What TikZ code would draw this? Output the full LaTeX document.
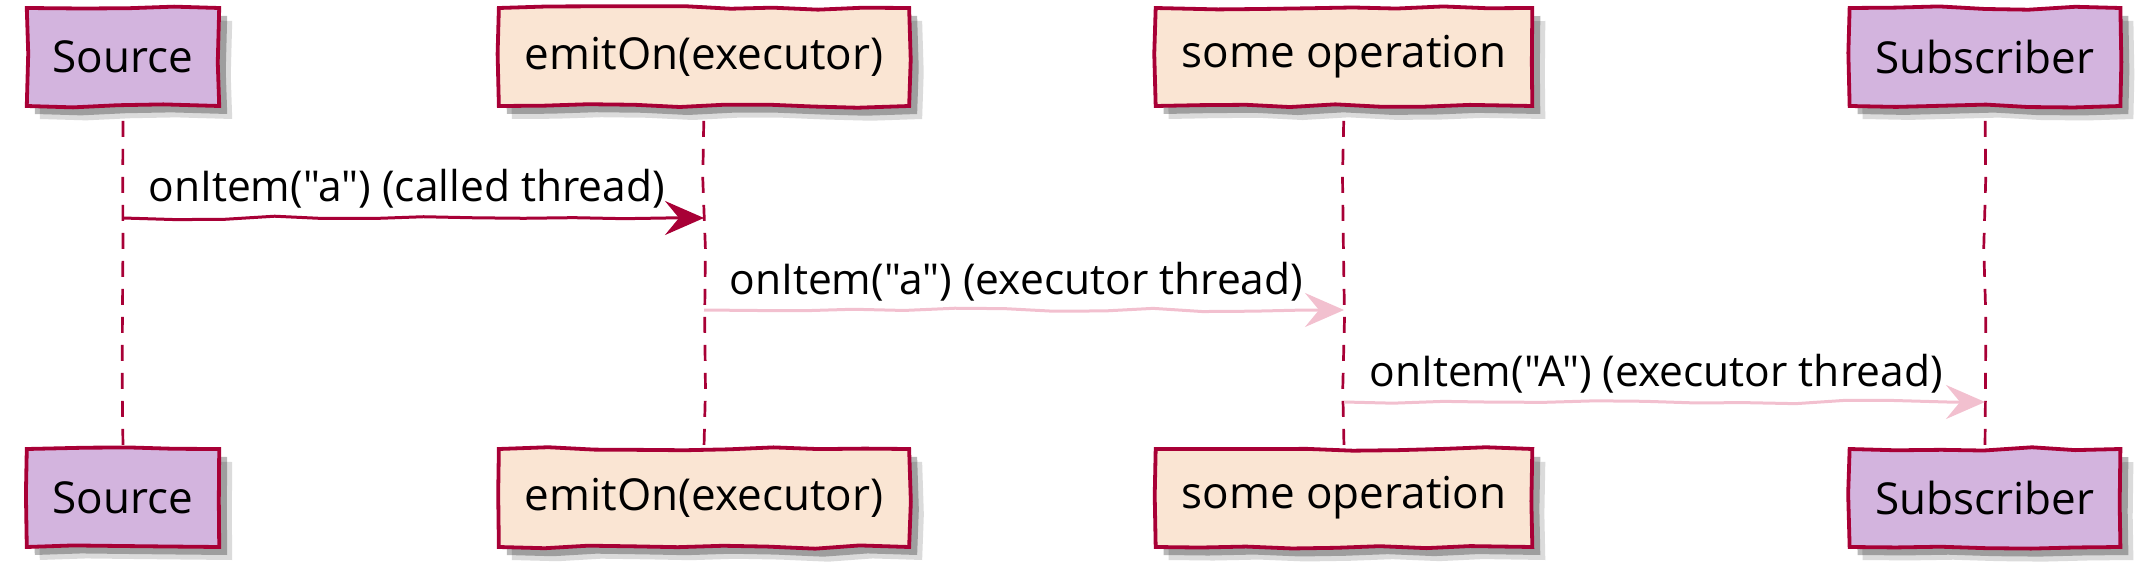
\documentclass[tikz,border=0pt]{standalone}
\usepackage{fontspec}
\setmainfont{Open Sans}[Ligatures=TeXOff]
\usetikzlibrary{arrows.meta,decorations.pathmorphing,shadows}

\definecolor{plumfill}{RGB}{211,180,222}
\definecolor{sandfill}{RGB}{250,229,211}
\definecolor{redline}{RGB}{168,0,54}
\definecolor{pinkline}{RGB}{242,192,207}

\tikzset{
	box/.style={draw=redline, line width=3.8pt, minimum height=98pt, inner xsep=26pt,
		font=\fontsize{44}{50}\selectfont,
		decorate, decoration={random steps, segment length=45pt, amplitude=1.8pt},
		drop shadow={shadow xshift=8pt, shadow yshift=-8pt, fill=black, opacity=.28},
		drop shadow={shadow xshift=13pt, shadow yshift=-13pt, fill=black, opacity=.14}},
	plum/.style={box, fill=plumfill},
	sand/.style={box, fill=sandfill},
	life/.style={draw=redline, line width=2.7pt, dash pattern=on 16pt off 12pt,
		decorate, decoration={random steps, segment length=70pt, amplitude=1.5pt},
		shorten <=13pt, shorten >=2pt},
	msg/.style={line width=3pt, decorate,
		decoration={random steps, segment length=50pt, amplitude=1.8pt, post length=38pt},
		-{Stealth[length=39pt, width=34pt, inset=14pt]}},
	lbl/.style={text=black, font=\fontsize{42.5}{48}\selectfont, anchor=base west,
		inner sep=0pt, xshift=24pt, yshift=16pt}
}

\begin{document}
\begin{tikzpicture}[x=1pt, y=-1pt]
			\useasboundingbox (0,0) rectangle (2150,580);
			\pgfmathsetseed{4211}

			\node[plum] (P1) at (123,57) {Source};
			\node[sand] (P2) at (704,57) {emitOn(executor)};
			\node[sand] (P3) at (1344,57) {some operation};
			\node[plum] (P4) at (1985,57) {Subscriber};

			\node[plum] (P5) at (123,498) {Source};
			\node[sand] (P6) at (704,498) {emitOn(executor)};
			\node[sand] (P7) at (1344,498) {some operation};
			\node[plum] (P8) at (1985,498) {Subscriber};

			\draw[life] (P1.south) -- (P5.north);
			\draw[life] (P2.south) -- (P6.north);
			\draw[life] (P3.south) -- (P7.north);
			\draw[life] (P4.south) -- (P8.north);

			\coordinate (m1a) at (P1 |- 0,218);
			\coordinate (m1b) at (P2 |- 0,218);
			\coordinate (m2a) at (P2 |- 0,310);
			\coordinate (m2b) at (P3 |- 0,310);
			\coordinate (m3a) at (P3 |- 0,402);
			\coordinate (m3b) at (P4 |- 0,402);

			\draw[msg, redline] (m1a) -- (m1b) node[lbl, pos=0] {onItem("a") (called thread)};
			\draw[msg, pinkline] (m2a) -- (m2b) node[lbl, pos=0] {onItem("a") (executor thread)};
			\draw[msg, pinkline] (m3a) -- (m3b) node[lbl, pos=0] {onItem("A") (executor thread)};
		\end{tikzpicture}
\end{document}
